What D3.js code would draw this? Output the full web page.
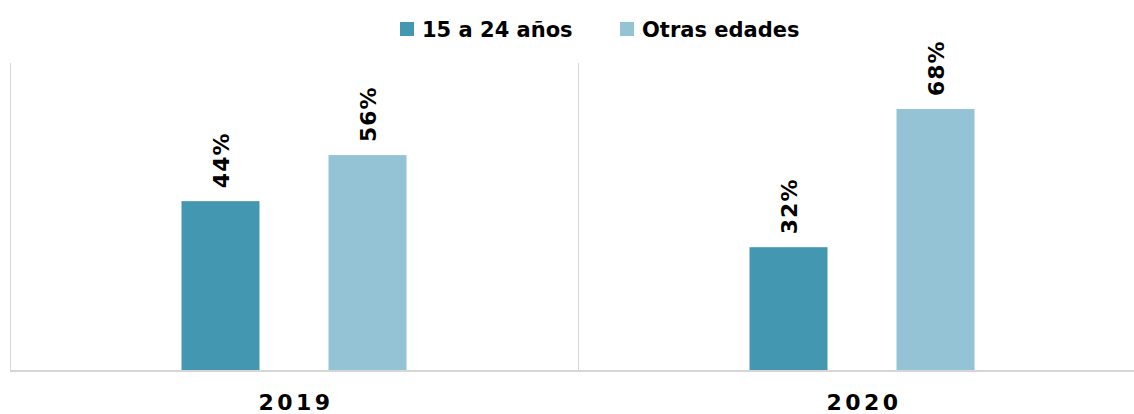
<!DOCTYPE html>
<html><head><meta charset="utf-8">
<script src="https://cdn.jsdelivr.net/npm/d3@7/dist/d3.min.js"></script>
<style>body{margin:0;background:#fff;}svg{display:block;}</style>
</head><body>
<svg id="chart" width="1134" height="414"></svg>
<script>
const categories = ["2019", "2020"];
const seriesNames = ["15 a 24 años", "Otras edades"];
const youth = [44, 32];
const others = [56, 68];
const colors = ["#4397b0", "#94c3d5"];

const svg = d3.select("#chart");
const font = "'DejaVu Sans', Verdana, sans-serif";
const x0 = d3.scaleBand().domain(categories).range([10, 1146]).padding(0);
const x1 = d3.scaleBand().domain(seriesNames).range([0, 225]).paddingInner(69 / 147).paddingOuter(0);
const y = d3.scaleLinear().domain([0, 80]).range([370, 63]);

// frame lines
svg.append("line").attr("x1", 10.5).attr("x2", 10.5).attr("y1", 63).attr("y2", 370).attr("stroke", "#d9d9d9");
categories.slice(1).forEach(c => {
  const xx = Math.round(x0(c)) + 0.5;
  svg.append("line").attr("x1", xx).attr("x2", xx).attr("y1", 63).attr("y2", 370).attr("stroke", "#d9d9d9");
});
svg.append("line").attr("x1", 10).attr("x2", 1134).attr("y1", 371).attr("y2", 371).attr("stroke", "#d6d6d6").attr("stroke-width", 2);

const data = categories.map((c, i) => ({ cat: c, vals: [youth[i], others[i]] }));
const groups = svg.selectAll("g.grp").data(data).join("g")
  .attr("transform", d => `translate(${x0(d.cat) + (x0.bandwidth() - 225) / 2},0)`);

groups.selectAll("rect").data(d => d.vals.map((v, j) => ({ v, s: seriesNames[j], j }))).join("rect")
  .attr("x", d => x1(d.s)).attr("width", x1.bandwidth())
  .attr("y", d => y(d.v)).attr("height", d => y(0) - y(d.v))
  .attr("fill", d => colors[d.j]);

groups.selectAll("text.lbl").data(d => d.vals.map((v, j) => ({ v, s: seriesNames[j], j }))).join("text")
  .attr("class", "lbl")
  .attr("transform", d => `translate(${x1(d.s) + x1.bandwidth() / 2 + 8},${y(d.v) - 13}) rotate(-90)`)
  .attr("font-family", font).attr("font-weight", "bold").attr("font-size", 22).attr("letter-spacing", 1).attr("fill", "#000")
  .text(d => d.v + "%");

// category labels
svg.selectAll("text.cat").data(categories).join("text").attr("class", "cat")
  .attr("x", d => x0(d) + x0.bandwidth() / 2 + 2).attr("y", 410)
  .attr("text-anchor", "middle").attr("font-family", font).attr("font-weight", "bold")
  .attr("font-size", 22).attr("letter-spacing", 3.5).attr("fill", "#000").text(d => d);

// legend
const legX = [400, 620];
seriesNames.forEach((s, i) => {
  svg.append("rect").attr("x", legX[i]).attr("y", 22).attr("width", 14).attr("height", 14).attr("fill", colors[i]);
  svg.append("text").attr("x", legX[i] + 22).attr("y", 37).attr("font-family", font).attr("font-weight", "bold")
    .attr("font-size", 21).attr("fill", "#000").text(s);
});
</script>
</body></html>
